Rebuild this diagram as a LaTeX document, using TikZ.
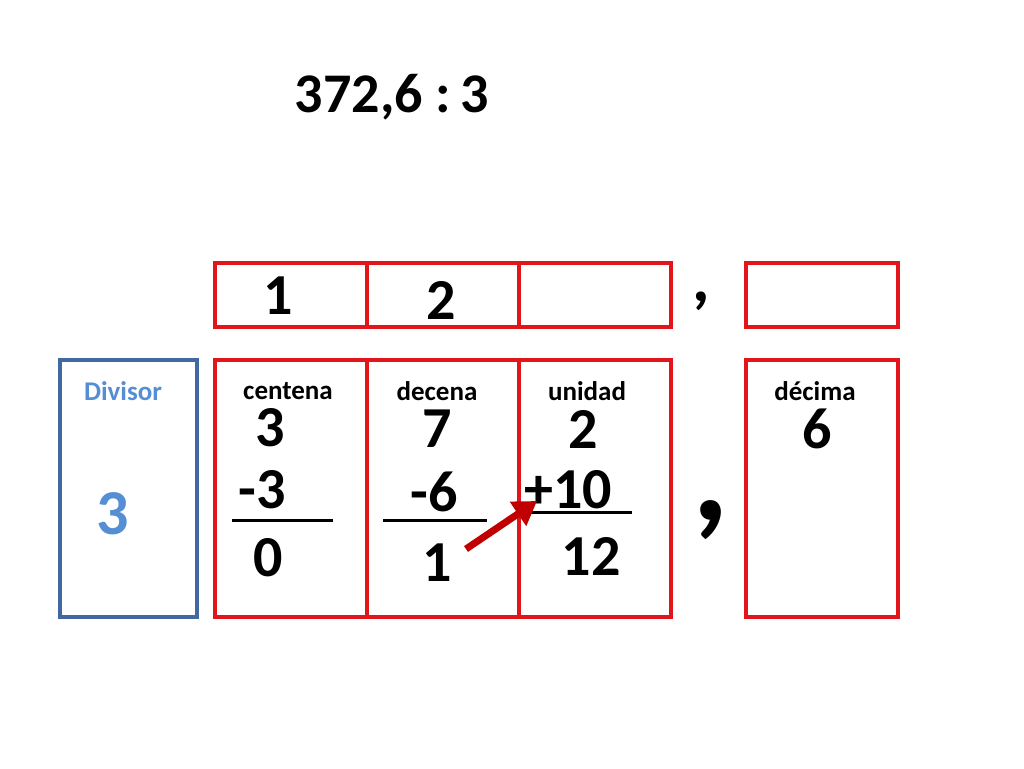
\documentclass[tikz,border=0pt]{standalone}
\usepackage{fontspec}
\setmainfont{Carlito}
\usetikzlibrary{arrows.meta}
\definecolor{boxred}{RGB}{226,22,26}
\definecolor{boxblue}{RGB}{65,105,160}
\definecolor{txtblue}{RGB}{85,142,213}
\definecolor{arrred}{RGB}{192,0,0}
\tikzset{
  redbox/.style={draw=boxred,line width=3.4pt},
  bluebox/.style={draw=boxblue,line width=3.4pt},
  lbl/.style={font=\bfseries\fontsize{27}{30}\selectfont,inner sep=0pt},
  big/.style={font=\bfseries\fontsize{58}{62}\selectfont,inner sep=0pt},
  rule/.style={line width=3pt,black}
}
\begin{document}
\begin{tikzpicture}[x=1pt,y=-1pt]
\useasboundingbox (0,0) rectangle (1024,768);
% title
\node[font=\bfseries\fontsize{56}{60}\selectfont,inner sep=0pt] (title) at (392,97) {372,6 :\kern-3pt\ 3};
% top row boxes
\draw[redbox] (215,263) rectangle (367,327);
\draw[redbox] (367,263) rectangle (519,327);
\draw[redbox] (519,263) rectangle (671,327);
\draw[redbox] (746,263) rectangle (898,327);
\node[big] (qa) at (278,296) {1};
\node[big] (qb) at (441,300) {2};
\node[font=\bfseries\fontsize{68}{68}\selectfont,inner sep=0pt] (qc) at (701,301) {,};
% bottom boxes
\draw[bluebox] (60,360) rectangle (197,617);
\draw[redbox] (215,360) rectangle (367,617);
\draw[redbox] (367,360) rectangle (519,617);
\draw[redbox] (519,360) rectangle (671,617);
\draw[redbox] (746,360) rectangle (898,617);
% labels
\node[lbl,text=txtblue] (ldiv) at (123,391) {Divisor};
\node[lbl] (lc) at (288,391) {centena};
\node[lbl] (ld) at (437,391) {decena};
\node[lbl] (lu) at (587,391) {unidad};
\node[lbl] (lm) at (815,391) {décima};
% divisor
\node[font=\bfseries\fontsize{64}{68}\selectfont,inner sep=0pt,text=txtblue] (dv) at (113,514) {3};
% digits
\node[big] (c1) at (270,428) {3};
\node[big] (d1) at (437,429) {7};
\node[big] (u1) at (583,429) {2};
\node[big] (m1) at (817,429) {6};
\node[big] (c2) at (262,490) {-3};
\node[big] (d2) at (434,492) {-6};
\node[big] (u2) at (568,490) {+10};
\draw[rule] (232,520) -- (333,520);
\draw[rule] (383,520) -- (487,520);
\draw[rule] (531,512) -- (632,512);
\node[big] (c3) at (268,558) {0};
\node[big] (d3) at (437,563) {1};
\node[big] (u3) at (591,556) {12};
% big comma
\node[font=\bfseries\fontsize{142}{142}\selectfont,inner sep=0pt] (cm) at (711,520) {,};
% arrow
\coordinate (as) at (466,549);
\coordinate (ae) at (537,501);
\draw[arrred,line width=7pt,-{Triangle[length=23pt,width=28pt]}] (as) -- (ae);
\end{tikzpicture}
\end{document}
